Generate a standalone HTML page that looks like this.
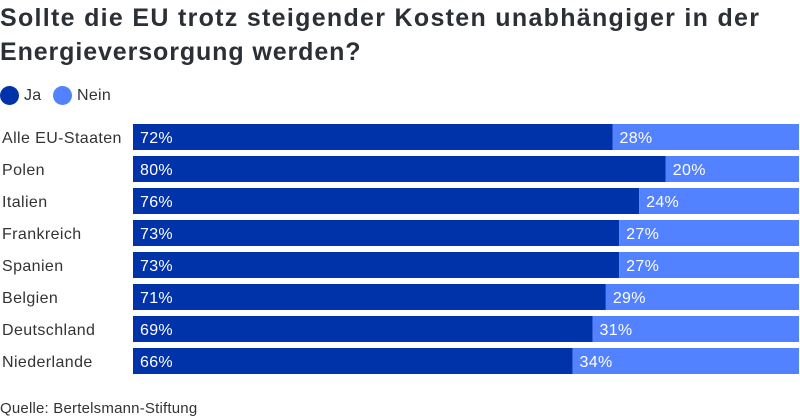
<!DOCTYPE html>
<html><head><meta charset="utf-8"><style>
body{margin:0;width:800px;height:420px;background:#fff;font-family:"Liberation Sans",sans-serif;overflow:hidden;position:relative}
.t{position:absolute;left:0;top:1px;font-size:25px;font-weight:bold;color:#2b2f36;line-height:34px;letter-spacing:1.3px}
.t span{letter-spacing:0.9px}
.lg{position:absolute;top:86px;font-size:16px;color:#333;display:flex;align-items:center;letter-spacing:0.3px}
.dot{width:19px;height:19px;border-radius:50%;margin-right:5px}
.src{position:absolute;left:0;top:400px;font-size:15px;color:#333;letter-spacing:0.2px}
svg{position:absolute;left:0;top:0}
</style></head><body>
<div class="t">Sollte die EU trotz steigender Kosten unabhängiger in der<br><span>Energieversorgung werden?</span></div>
<div class="lg" style="left:0"><div class="dot" style="background:#0033a9"></div>Ja</div>
<div class="lg" style="left:53px"><div class="dot" style="background:#5282ff"></div>Nein</div>
<svg id="c" width="800" height="420"></svg>
<div class="src">Quelle: Bertelsmann-Stiftung</div>
<script>
const categories=["Alle EU-Staaten","Polen","Italien","Frankreich","Spanien","Belgien","Deutschland","Niederlande"];
const jaValues=[72,80,76,73,73,71,69,66];
const neinValues=[28,20,24,27,27,29,31,34];
const svg=document.getElementById('c');
const NS='http://www.w3.org/2000/svg';
const x0=133,w=666;
function xs(v){return v/100*w;}
function ys(i){return 124+i*32;}
function mk(t,a){const e=document.createElementNS(NS,t);for(const k in a)e.setAttribute(k,a[k]);svg.appendChild(e);return e;}
categories.forEach((c,i)=>{
const y=ys(i);
const lab=mk('text',{x:2,y:y+19,'font-size':16,'letter-spacing':0.4,fill:'#333','font-family':'Liberation Sans, sans-serif'});lab.textContent=c;


const jw=xs(jaValues[i]);
const b1=mk('rect',{x:x0,y:y,width:jw,height:26,fill:'#0033a9'});


const b2=mk('rect',{x:x0+jw,y:y,width:xs(neinValues[i]),height:26,fill:'#5282ff'});


const t1=mk('text',{x:x0+7,y:y+19,'font-size':16,'letter-spacing':0.3,fill:'#fff','font-family':'Liberation Sans, sans-serif'});t1.textContent=jaValues[i]+'%';


const t2=mk('text',{x:x0+jw+7,y:y+19,'font-size':16,'letter-spacing':0.3,fill:'#fff','font-family':'Liberation Sans, sans-serif'});t2.textContent=neinValues[i]+'%';


});
</script>
</body></html>
